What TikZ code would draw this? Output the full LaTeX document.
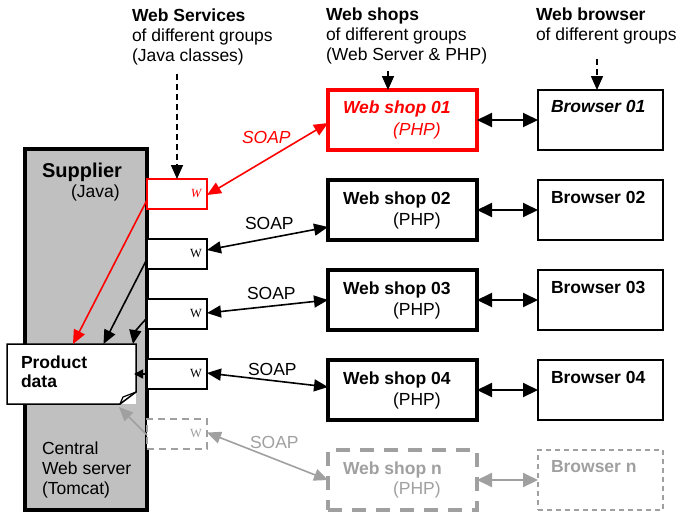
\documentclass[tikz,border=0pt]{standalone}
\usepackage{fontspec}
\setmainfont{Liberation Sans}
\newfontfamily\wfont{Liberation Serif}
\usetikzlibrary{arrows.meta}
\definecolor{ngray}{RGB}{160,160,160}
\definecolor{supgray}{RGB}{192,192,192}
\definecolor{myred}{RGB}{255,0,0}
\begin{document}
\begin{tikzpicture}[x=1pt,y=-1pt,
  every node/.style={inner sep=0pt, outer sep=0pt},
  txt/.style={anchor=base west, font=\fontsize{17.5}{20}\selectfont},
  btxt/.style={anchor=base west, font=\fontsize{17.5}{20}\selectfont\bfseries},
  wbox/.style={draw, fill=white, line width=1.5pt, minimum width=60pt, minimum height=30pt},
  wlab/.style={anchor=base, font=\wfont\fontsize{12.5}{14}\selectfont},
  shop/.style={draw, fill=white, line width=4pt, minimum width=149pt, minimum height=60pt},
  brow/.style={draw, fill=white, line width=1.8pt, minimum width=125pt, minimum height=60pt},
  arr/.style={-{Triangle[length=14pt,width=12pt]}, line width=1.6pt},
  dbl/.style={{Triangle[length=14pt,width=12pt]}-{Triangle[length=14pt,width=12pt]}, line width=1.6pt},
  dblb/.style={{Triangle[length=15pt,width=14pt]}-{Triangle[length=15pt,width=14pt]}, line width=2pt},
]
\useasboundingbox (0,0) rectangle (680,515);

% headers
\node[btxt] (h1a) at (132,21) {Web Services};
\node[txt]  (h1b) at (132,41) {of different groups};
\node[txt]  (h1c) at (132,61) {(Java classes)};
\node[btxt] (h2a) at (326,20) {Web shops};
\node[txt]  (h2b) at (326,40) {of different groups};
\node[txt]  (h2c) at (326,60) {(Web Server \& PHP)};
\node[btxt] (h3a) at (536,20) {Web browser};
\node[txt]  (h3b) at (536,40) {of different groups};

% supplier
\node[draw, line width=4pt, fill=supgray, minimum width=122pt, minimum height=361pt] (sup) at (86,329.5) {};
\node[btxt, font=\fontsize{20}{24}\selectfont\bfseries] (tsup) at (42,177) {Supplier};
\node[txt] (tjava) at (71,197) {(Java)};
\node[txt] (tc1) at (42,454) {Central};
\node[txt] (tc2) at (42,474) {Web server};
\node[txt] (tc3) at (42,494) {(Tomcat)};

% product data
\node[fill=white, minimum width=129pt, minimum height=60pt] (pd) at (71.5,374) {};
\draw[line width=1.5pt, fill=white] (pd.north west) -- (pd.north east) -- ([yshift=12pt]pd.south east)
  -- ([xshift=-16pt]pd.south east) -- (pd.south west) -- cycle;
\draw[line width=1.2pt] ([xshift=-16pt]pd.south east) -- ([xshift=-13pt,yshift=7pt]pd.south east) -- ([yshift=12pt]pd.south east);
\node[btxt] (tpd1) at (21,368) {Product};
\node[btxt] (tpd2) at (21,387) {data};

% W boxes
\node[wbox, draw=myred] (w1) at (177,194) {};
\node[wbox] (w2) at (177,254) {};
\node[wbox] (w3) at (177,314) {};
\node[wbox] (w4) at (177,374) {};
\node[wbox, draw=ngray, line width=2pt, dash pattern=on 7pt off 5pt] (wn) at (177,434) {};
\node[wlab, text=myred] (lw1) at (196,197) {\itshape W};
\node[wlab] (lw2) at (196,257) {W};
\node[wlab] (lw3) at (196,317) {W};
\node[wlab] (lw4) at (196,377) {W};
\node[wlab, text=ngray] (lwn) at (196,437) {W};

% web shops
\node[shop, draw=myred, line width=4.5pt] (ws1) at (402.5,120) {};
\node[shop] (ws2) at (402.5,210) {};
\node[shop] (ws3) at (402.5,300) {};
\node[shop] (ws4) at (402.5,390) {};
\node[shop, draw=ngray, dash pattern=on 14pt off 10pt] (wsn) at (402.5,480) {};
\node[btxt, text=myred, font=\fontsize{17.5}{20}\selectfont\bfseries\itshape] (t1a) at (343,113) {Web shop 01};
\node[txt, text=myred, font=\fontsize{17.5}{20}\selectfont\itshape] (t1b) at (393,135) {(PHP)};
\node[btxt] (t2a) at (343,204) {Web shop 02};
\node[txt] (t2b) at (393,225) {(PHP)};
\node[btxt] (t3a) at (343,294) {Web shop 03};
\node[txt] (t3b) at (393,315) {(PHP)};
\node[btxt] (t4a) at (343,384) {Web shop 04};
\node[txt] (t4b) at (393,405) {(PHP)};
\node[btxt, text=ngray] (tna) at (343,474) {Web shop n};
\node[txt, text=ngray] (tnb) at (393,494) {(PHP)};

% browsers
\node[brow] (br1) at (600.5,120) {};
\node[brow] (br2) at (600.5,210) {};
\node[brow] (br3) at (600.5,300) {};
\node[brow] (br4) at (600.5,390) {};
\node[brow, draw=ngray, line width=1.5pt, dash pattern=on 5pt off 4pt] (brn) at (600.5,480) {};
\node[btxt, font=\fontsize{17.5}{20}\selectfont\bfseries\itshape] (b1) at (551,112) {Browser 01};
\node[btxt] (b2) at (551,203) {Browser 02};
\node[btxt] (b3) at (551,293) {Browser 03};
\node[btxt] (b4) at (551,383) {Browser 04};
\node[btxt, text=ngray] (bn) at (551,472) {Browser n};

% header arrows
\coordinate (hws) at (177,74);
\coordinate (hsh) at (388,71);
\coordinate (hbr) at (597,59);
\draw[arr, dash pattern=on 6pt off 4pt] (hws) -- (w1.north);
\draw[arr] (hsh) -- (hsh |- ws1.north);
\draw[arr, dash pattern=on 6pt off 4pt] (hbr) -- (hbr |- br1.north);

% arrows inside the supplier
\draw[arr, myred] ([yshift=-6pt]w1.west) -- ([xshift=1.5pt]pd.north);
\draw[arr] ([yshift=-5pt]w2.west) -- ([xshift=32pt]pd.north);
\draw[arr] ([yshift=-4pt]w3.west) .. controls (141,324) and (135,332) .. ([xshift=-3pt]pd.north east);
\draw[-{Triangle[length=9pt,width=9pt]}, line width=1.6pt] (w4.west) -- ([xshift=-2pt]pd.east);
\draw[arr, ngray] ([yshift=-1pt]wn.west) -- ([xshift=-17pt,yshift=-3pt]pd.south east);

% SOAP
\draw[dbl, myred] ([yshift=-1pt]w1.east) -- ([yshift=-3pt]ws1.west);
\draw[dbl] ([yshift=4pt]w2.east) -- ([yshift=-17pt]ws2.west);
\draw[dbl] ([yshift=1pt]w3.east) -- (ws3.west);
\draw[dbl] ([yshift=1pt]w4.east) -- ([yshift=3pt]ws4.west);
\draw[dbl, ngray] ([yshift=1.5pt]wn.east) -- (wsn.west);
\node[txt, text=myred, font=\fontsize{17.5}{20}\selectfont\itshape] (s1) at (242,143) {SOAP};
\node[txt] (s2) at (245,229) {SOAP};
\node[txt] (s3) at (247,299) {SOAP};
\node[txt] (s4) at (248,375) {SOAP};
\node[txt, text=ngray] (sn) at (250,448) {SOAP};

% shop - browser
\draw[dblb] (ws1.east) -- (br1.west);
\draw[dblb] (ws2.east) -- (br2.west);
\draw[dblb] (ws3.east) -- (br3.west);
\draw[dblb] (ws4.east) -- (br4.west);
\draw[dblb, ngray] (wsn.east) -- (brn.west);
\end{tikzpicture}
\end{document}
